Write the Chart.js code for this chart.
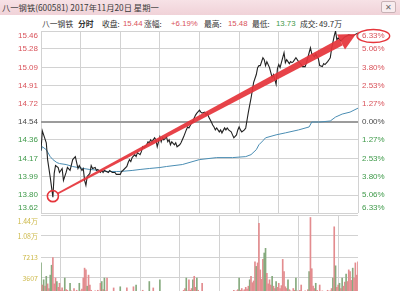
<!DOCTYPE html>
<html>
<head>
<meta charset="utf-8">
<script src="https://cdn.jsdelivr.net/npm/chart.js@4.4.0/dist/chart.umd.min.js"></script>
<style>
html, body { margin: 0; padding: 0; width: 400px; height: 291px; overflow: hidden; background: #fff;
  font-family: "Noto Sans CJK SC", "Liberation Sans", sans-serif; }
#titlebar { position: absolute; left: 0; top: 0; width: 400px; height: 15px; background: linear-gradient(#f7e2e6, #f0d2d8); }
#title { position: absolute; left: 2px; top: 1px; font-size: 8.3px; line-height: 13px; color: #3a3a3a; white-space: nowrap; }
#close { position: absolute; left: 381px; top: 1px; width: 13px; height: 10px; border: 1px solid #c8b2b6; border-radius: 2px;
  font-size: 8px; line-height: 10px; text-align: center; color: #6a6a6a; background: #f8ecee; }
.h { position: absolute; top: 18px; font-size: 7.8px; line-height: 12px; color: #333; white-space: nowrap; }
.num { font-family: "Liberation Sans", Arial, sans-serif; }
.red { color: #d9535b; }
.green { color: #3f9a4a; }
#price { position: absolute; left: 0; top: 0; }
#vol { position: absolute; left: 0; top: 210px; }
</style>
</head>
<body>
<div id="titlebar"><div id="title">八一钢铁(600581) 2017年11月20日 星期一</div><div id="close">✕</div></div>
<span class="h" style="left:42px">八一钢铁</span>
<span class="h" style="left:78px;font-weight:bold">分时</span>
<span class="h" style="left:102px">收盘:</span>
<span class="h num red" style="left:123px">15.44</span>
<span class="h" style="left:144px">涨幅:</span>
<span class="h num red" style="left:171px">+6.19%</span>
<span class="h" style="left:204px">最高:</span>
<span class="h num red" style="left:228px">15.48</span>
<span class="h" style="left:252px">最低:</span>
<span class="h num green" style="left:276px">13.73</span>
<span class="h" style="left:300px">成交:</span>
<span class="h" style="left:319px">49.7万</span>

<canvas id="price" width="400" height="216"></canvas>
<canvas id="vol" width="400" height="92"></canvas>

<script>
// previous close, axis ticks and labels
const prevClose = 14.54;
const priceTicks = [13.62, 13.80, 13.99, 14.17, 14.36, 14.54, 14.72, 14.91, 15.09, 15.28, 15.46];
const pctLabels = ['6.33%', '5.06%', '3.80%', '2.53%', '1.27%', '0.00%', '1.27%', '2.53%', '3.80%', '5.06%', '6.33%'];
const volTicks = [3607, 7213, 10820, 14426];
const volLabels = ['3607', '7213', '1.08万', '1.44万'];

// minutes from 9:30 (0..240) and price
const priceTime = [0, 1, 2, 4, 5, 7, 9, 10, 11, 13, 14, 16, 17, 19, 20, 22, 24, 26, 27, 28, 29, 31, 32, 33, 34, 35, 37, 38, 39, 41,
  42, 43, 45, 46, 47, 48, 51, 52, 54, 56, 57, 60, 61, 62, 65, 66, 67, 68, 69, 71, 72, 73, 75, 76, 77, 78, 80, 81, 82, 83,
  84, 86, 87, 88, 90, 91, 92, 93, 95, 96, 97, 98, 99, 101, 102, 103, 105, 106, 107, 108, 110, 111, 112, 114, 115, 116, 117, 118, 120,
  121, 122, 124, 125, 126, 127, 129, 130, 131, 132, 133, 135, 136, 137, 139, 140, 141, 142, 144, 145, 146, 148, 149, 150, 151, 152,
  154, 155, 156, 157, 159, 160, 161, 163, 164, 165, 166, 168, 169, 170, 171, 173, 174, 175, 176, 178, 179, 180, 181, 183, 184, 185,
  186, 188, 189, 190, 191, 193, 195, 197, 198, 200, 201, 203, 204, 205, 207, 208, 209, 210, 211, 213, 214, 215, 217, 218, 219, 220,
  222, 223, 224, 225, 227, 230, 233, 236, 240];
const priceValue = [14.25, 14.45, 14.41, 14.33, 14.16, 13.98, 13.78, 14.02, 14.10, 14.08, 14.03, 14.07, 13.95, 14.03, 14.08, 14.05, 14.16, 14.19, 14.13, 14.07, 14.10, 14.05, 14.07, 13.95, 13.90, 13.99, 14.02, 14.10, 14.07, 14.08,
  14.05, 14.06, 14.03, 14.05, 14.03, 14.05, 14.03, 14.05, 14.03, 14.03, 14.01, 14.01, 14.04, 14.05, 14.09, 14.13, 14.16, 14.14, 14.18, 14.21, 14.19, 14.23, 14.21, 14.24, 14.29, 14.28, 14.31, 14.34, 14.33, 14.36,
  14.34, 14.38, 14.36, 14.29, 14.39, 14.34, 14.38, 14.36, 14.39, 14.34, 14.36, 14.31, 14.34, 14.31, 14.33, 14.29, 14.31, 14.33, 14.36, 14.39, 14.46, 14.49, 14.48, 14.53, 14.54, 14.58, 14.61, 14.63, 14.66,
  14.64, 14.63, 14.64, 14.61, 14.63, 14.59, 14.54, 14.51, 14.49, 14.46, 14.48, 14.44, 14.46, 14.43, 14.48, 14.46, 14.48, 14.46, 14.44, 14.41, 14.38, 14.41, 14.46, 14.49, 14.46, 14.44,
  14.46, 14.48, 14.56, 14.64, 14.78, 14.86, 14.94, 15.02, 15.09, 15.11, 15.11, 15.19, 15.17, 15.11, 15.15, 15.09, 15.04, 14.99, 15.02, 14.92, 15.08, 15.12, 15.09, 15.19, 15.24, 15.14,
  15.17, 15.13, 15.15, 15.14, 15.15, 15.19, 15.15, 15.12, 15.10, 15.10, 15.14, 15.24, 15.29, 15.23, 15.20, 15.23, 15.20, 15.18, 15.11, 15.10, 15.13, 15.12, 15.15, 15.17, 15.19, 15.28,
  15.41, 15.46, 15.37, 15.39, 15.36, 15.40, 15.42, 15.41, 15.44];

// average price line
const avgTime = [0, 1, 4, 7, 9, 12, 14, 19, 24, 32, 37, 45, 50, 57, 60, 69, 75, 82, 90, 95, 107, 120,
  133, 145, 155, 159, 163, 165, 168, 170, 178, 185, 195, 203, 205, 211, 219, 223, 228, 234, 240];
const avgValue = [14.25, 14.29, 14.26, 14.19, 14.16, 14.13, 14.12, 14.11, 14.09, 14.07, 14.06, 14.05, 14.04, 14.04, 14.04, 14.05, 14.06, 14.07, 14.08, 14.09, 14.11, 14.16,
  14.18, 14.18, 14.19, 14.21, 14.26, 14.31, 14.35, 14.38, 14.41, 14.43, 14.46, 14.49, 14.54, 14.54, 14.55, 14.59, 14.62, 14.64, 14.68];

// volume per minute
const volume = [
  6200, 2400, 3300, 2200, 3900, 2600, 1800, 4100, 5800, 7100,
  2600, 3600, 3000, 2000, 2700, 1500, 1900, 1400, 3600, 1600,
  1500, 1300, 2700, 1400, 1200, 1800, 1100, 1500, 1300, 2700,
  1400, 1700, 3600, 5300, 5000, 2200, 4100, 2400, 1500, 1300,
  1200, 1400, 1100, 1500, 1300, 2700, 3000, 1600, 3600, 1400,
  3600, 1200, 1000, 1300, 900, 1900, 1100, 1000, 1200, 900,
  2100, 1000, 1200, 900, 1100, 1900, 1000, 1300, 900, 1100,
  2100, 1200, 2400, 1000, 1300, 900, 1100, 1500, 1200, 1000,
  1300, 1100, 3000, 1200, 1000, 1900, 1300, 1000, 1200, 900,
  3300, 1100, 1000, 1200, 800, 1000, 900, 1100, 800, 1000,
  900, 1200, 800, 1000, 1100, 900, 1200, 1000, 1500, 1800,
  3600, 1400, 3300, 1500, 1800, 3300, 3900, 2000, 3600, 1500,
  1200, 1000, 2700, 1100, 900, 1000, 800, 1000, 900, 800,
  900, 1000, 800, 900, 1100, 800, 1000, 900, 1200, 1000,
  900, 1100, 1000, 1200, 1300, 1000, 1500, 1200, 1400, 1600,
  3600, 1500, 1800, 1400, 1600, 2000, 1700, 2200, 3300, 3900,
  2800, 3100, 6400, 5600, 6200, 13000, 5000, 3400, 6800, 7900,
  8700, 4400, 2600, 3300, 2400, 3900, 2200, 1800, 3000, 2000,
  2700, 1800, 2300, 6800, 4700, 2100, 1800, 3300, 1600, 1400,
  1300, 1800, 1500, 3600, 1400, 1200, 1500, 2400, 1300, 1100,
  1400, 1200, 1600, 4700, 14000, 5200, 2200, 1800, 2700, 1500,
  1300, 2400, 1200, 1400, 1100, 1300, 1000, 1500, 1200, 1400,
  1800, 3600, 12400, 5700, 2000, 2400, 2700, 1800, 3600, 2200,
  2900, 4300, 3000, 5000, 4700, 3200, 5300, 3600, 6200, 4100,
  6400
];
// minutes whose bar is green (price fell)
const volDown = [0, 2, 4, 7, 8, 12, 18, 22, 29, 35, 46, 48, 60, 72, 82, 90, 110, 115, 118, 150, 158, 163,
  169, 170, 175, 178, 187, 193, 203, 208, 221, 223, 226, 228, 231, 236];

const RED = '#d9535b';
const GREEN = '#3f9a4a';
const GREY = '#4a4a4a';
const GRID = '#d2d2d2';

function labelColor(v) {
  if (v > prevClose + 0.001) return RED;
  if (v < prevClose - 0.001) return GREEN;
  return GREY;
}

// left price labels + right percent labels, kept inside the plot
const priceLabels = {
  id: 'priceLabels',
  afterDraw(chart) {
    const { ctx, chartArea, scales: { y } } = chart;
    ctx.save();
    ctx.font = '8px "Liberation Sans", Arial, sans-serif';
    ctx.textBaseline = 'middle';
    priceTicks.forEach((v, i) => {
      let py = y.getPixelForValue(v);
      py = Math.min(Math.max(py, chartArea.top + 5), chartArea.bottom - 5);
      ctx.fillStyle = labelColor(v);
      ctx.textAlign = 'right';
      ctx.fillText(v.toFixed(2), chartArea.left - 3, py);
      ctx.textAlign = 'left';
      ctx.fillText(pctLabels[i], chartArea.right + 4, py);
    });
    ctx.restore();
  }
};

// the red marks: circle on the low, arrow up to the high, ring round the top percent
const redMarks = {
  id: 'redMarks',
  afterDraw(chart) {
    const { ctx, chartArea, scales: { x, y } } = chart;
    const low = Math.min(...priceValue);
    const li = priceValue.indexOf(low);
    const cx = x.getPixelForValue(priceTime[li]);
    const cy = y.getPixelForValue(low) - 1;
    const r = 5.5;
    const tipX = chartArea.right - 2, tipY = chartArea.top + 3;
    let dx = tipX - cx, dy = tipY - cy;
    const len = Math.hypot(dx, dy);
    dx /= len; dy /= len;
    const nx = -dy, ny = dx;
    const sx = cx + dx * r, sy = cy + dy * r;
    const headLen = 17, headW = 8.5;
    const bx = tipX - dx * headLen, by = tipY - dy * headLen;

    ctx.save();
    ctx.strokeStyle = '#e5353b';
    ctx.fillStyle = 'rgba(229,53,59,0.93)';
    ctx.lineWidth = 1.6;
    ctx.beginPath();
    ctx.arc(cx, cy, r, 0, Math.PI * 2);
    ctx.stroke();

    ctx.beginPath();
    ctx.moveTo(sx + nx * 0.9, sy + ny * 0.9);
    ctx.lineTo(bx + nx * 3.8, by + ny * 3.8);
    ctx.lineTo(bx - nx * 3.8, by - ny * 3.8);
    ctx.lineTo(sx - nx * 0.9, sy - ny * 0.9);
    ctx.closePath();
    ctx.fill();

    ctx.beginPath();
    ctx.moveTo(tipX, tipY);
    ctx.lineTo(bx + nx * headW, by + ny * headW);
    ctx.lineTo(bx - nx * headW, by - ny * headW);
    ctx.closePath();
    ctx.fill();

    ctx.font = '8px "Liberation Sans", Arial, sans-serif';
    const w = ctx.measureText(pctLabels[pctLabels.length - 1]).width;
    const ey = chartArea.top + 5;
    ctx.lineWidth = 1.4;
    ctx.beginPath();
    ctx.ellipse(chartArea.right + 4 + w / 2, ey, w / 2 + 5, 6.5, 0, 0, Math.PI * 2);
    ctx.stroke();
    ctx.restore();
  }
};

const volLabelPlugin = {
  id: 'volLabels',
  afterDraw(chart) {
    const { ctx, chartArea, scales: { y } } = chart;
    ctx.save();
    ctx.font = '7px "Noto Sans CJK SC", "Liberation Sans", sans-serif';
    ctx.textBaseline = 'middle';
    ctx.textAlign = 'right';
    ctx.fillStyle = '#cdb94a';
    volTicks.forEach((v, i) => {
      let py = y.getPixelForValue(v);
      py = Math.max(py, chartArea.top + 6);
      ctx.fillText(volLabels[i], chartArea.left - 3, py);
    });
    ctx.restore();
  }
};

const xAxis = {
  type: 'linear', min: 0, max: 240,
  ticks: { display: false, stepSize: 30 },
  grid: { color: GRID, drawTicks: false },
  border: { display: false },
  afterFit(scale) { scale.height = 0; }
};

new Chart(document.getElementById('price'), {
  type: 'line',
  data: {
    datasets: [{
      data: priceTime.map((t, i) => ({ x: t, y: priceValue[i] })),
      borderColor: '#222',
      borderWidth: 1.1,
      pointRadius: 0,
      tension: 0
    }, {
      data: avgTime.map((t, i) => ({ x: t, y: avgValue[i] })),
      borderColor: '#4a8db3',
      borderWidth: 1,
      pointRadius: 0,
      tension: 0
    }]
  },
  options: {
    responsive: false,
    animation: false,
    layout: { padding: { left: 41, right: 42, top: 31, bottom: 3 } },
    plugins: { legend: { display: false }, tooltip: { enabled: false } },
    scales: {
      x: xAxis,
      y: {
        min: priceTicks[0], max: priceTicks[priceTicks.length - 1],
        afterBuildTicks(scale) { scale.ticks = priceTicks.map(v => ({ value: v })); },
        ticks: { display: false },
        grid: {
          drawTicks: false,
          color: c => (c.tick && Math.abs(c.tick.value - prevClose) < 0.001) ? '#9c9c9c' : GRID,
          lineWidth: c => (c.tick && Math.abs(c.tick.value - prevClose) < 0.001) ? 2 : 1
        },
        border: { display: false },
        afterFit(scale) { scale.width = 0; }
      }
    }
  },
  plugins: [priceLabels, redMarks]
});

new Chart(document.getElementById('vol'), {
  type: 'bar',
  data: {
    datasets: [{
      data: volume.map((v, i) => ({ x: i, y: v })),
      backgroundColor: volume.map((v, i) => volDown.includes(i) ? '#86aa7e' : '#e38c8f'),
      barThickness: 1
    }]
  },
  options: {
    responsive: false,
    animation: false,
    layout: { padding: { left: 41, right: 42, top: 5, bottom: 3 } },
    plugins: { legend: { display: false }, tooltip: { enabled: false } },
    scales: {
      x: Object.assign({}, xAxis, { offset: false }),
      y: {
        min: 0, max: volTicks[volTicks.length - 1],
        afterBuildTicks(scale) { scale.ticks = [0].concat(volTicks).map(v => ({ value: v })); },
        ticks: { display: false },
        grid: { color: GRID, drawTicks: false },
        border: { display: false },
        afterFit(scale) { scale.width = 0; }
      }
    }
  },
  plugins: [volLabelPlugin]
});
</script>
</body>
</html>
